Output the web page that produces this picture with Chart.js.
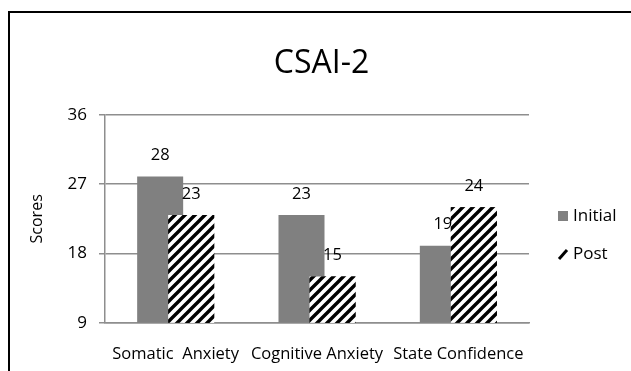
<!DOCTYPE html>
<html>
<head>
<meta charset="utf-8">
<script src="https://cdn.jsdelivr.net/npm/chart.js@4/dist/chart.umd.min.js"></script>
<style>
  html, body { margin: 0; padding: 0; background: #fff; }
  #wrap { position: relative; width: 631px; height: 371px; overflow: hidden; }
  #frame { position: absolute; left: 8px; top: 11px; width: 700px; height: 400px;
           border-left: 2px solid #000; border-top: 2px solid #000; pointer-events: none; }
  canvas { position: absolute; left: 0; top: 0; }
</style>
</head>
<body>
<div id="wrap">
  <canvas id="c" width="631" height="371"></canvas>
  <div id="frame"></div>
</div>
<script>
const chartTitle = "CSAI-2";
const categories = ["Somatic  Anxiety", "Cognitive Anxiety", "State Confidence"];
const seriesNames = ["Initial", "Post"];
const initialValues = [28, 23, 19];
const postValues = [23, 15, 24];
const yTicks = [9, 18, 27, 36];
const yAxisTitle = "Scores";

const FONT = "'Open Sans', 'Noto Sans', sans-serif";
const GRAY = "#808080";
const GRID = "#8e8e8e";

function makeHatch() {
  const s = 10;
  const p = document.createElement("canvas");
  p.width = s; p.height = s;
  const c = p.getContext("2d");
  c.fillStyle = "#fff";
  c.fillRect(0, 0, s, s);
  c.strokeStyle = "#000";
  c.lineWidth = 3.4;
  c.lineCap = "square";
  c.beginPath();
  c.moveTo(-2, s + 2); c.lineTo(s + 2, -2);
  c.moveTo(-2, 2); c.lineTo(2, -2);
  c.moveTo(s - 2, s + 2); c.lineTo(s + 2, s - 2);
  c.stroke();
  return document.getElementById("c").getContext("2d").createPattern(p, "repeat");
}
const hatch = makeHatch();

const valueLabels = {
  id: "valueLabels",
  afterDatasetsDraw(chart) {
    // draw Post bars on top of Initial bars (overlapping like the original)
    const ctx = chart.ctx;
    const area = chart.chartArea;
    ctx.save();
    ctx.beginPath();
    ctx.rect(area.left, area.top, area.right - area.left, area.bottom - area.top);
    ctx.clip();
    chart.getDatasetMeta(1).controller.draw();
    ctx.restore();

    ctx.save();
    ctx.font = "16.5px " + FONT;
    ctx.fillStyle = "#000";
    ctx.textAlign = "center";
    ctx.textBaseline = "middle";
    chart.data.datasets.forEach((ds, di) => {
      const meta = chart.getDatasetMeta(di);
      meta.data.forEach((bar, i) => {
        ctx.fillText(String(ds.data[i]), bar.x, bar.y - 21);
      });
    });
    ctx.restore();
  }
};

const customLegend = {
  id: "customLegend",
  afterDraw(chart) {
    const ctx = chart.ctx;
    const x0 = chart.chartArea.right + 29;
    const ys = [chart.chartArea.top + 101, chart.chartArea.top + 139];
    ctx.save();
    // Initial
    ctx.fillStyle = GRAY;
    ctx.fillRect(x0, ys[0] - 5, 10, 10);
    // Post
    ctx.strokeStyle = "#000";
    ctx.lineWidth = 3;
    ctx.beginPath();
    ctx.moveTo(x0 + 1, ys[1] + 5);
    ctx.lineTo(x0 + 9, ys[1] - 4);
    ctx.stroke();
    ctx.font = "17px " + FONT;
    ctx.fillStyle = "#000";
    ctx.textAlign = "left";
    ctx.textBaseline = "middle";
    ctx.fillText(seriesNames[0], x0 + 15, ys[0]);
    ctx.fillText(seriesNames[1], x0 + 15, ys[1]);
    ctx.restore();
  }
};

new Chart(document.getElementById("c"), {
  type: "bar",
  data: {
    labels: categories,
    datasets: [
      { label: seriesNames[0], data: initialValues, backgroundColor: GRAY, borderWidth: 0 },
      { label: seriesNames[1], data: postValues, backgroundColor: hatch, borderWidth: 0 }
    ]
  },
  options: {
    responsive: false,
    animation: false,
    devicePixelRatio: 1,
    categoryPercentage: 0.4388,
    barPercentage: 1.484,
    layout: { padding: { left: 12, right: 0, top: 0, bottom: 0 } },
    plugins: {
      legend: { display: false },
      tooltip: { enabled: false },
      title: {
        display: true,
        text: chartTitle,
        color: "#000",
        font: { family: FONT, size: 32, weight: "normal", lineHeight: 1.2 },
        padding: { top: 45, bottom: 31.6 }
      }
    },
    scales: {
      x: {
        grid: { display: false, drawTicks: false },
        border: { display: true, color: GRID, width: 1.5 },
        ticks: { color: "#000", font: { family: FONT, size: 16.5 }, padding: 22, maxRotation: 0, autoSkip: false },
        afterFit: s => { s.height = 48.3; }
      },
      y: {
        min: 9,
        max: 36,
        afterBuildTicks: s => { s.ticks = yTicks.map(v => ({ value: v })); },
        grid: { color: GRID, lineWidth: 1.5, drawTicks: true, tickLength: 6 },
        border: { display: true, color: GRID, width: 1.5 },
        ticks: { color: "#000", font: { family: FONT, size: 17 }, padding: 12 },
        title: { display: true, text: yAxisTitle, color: "#000", font: { family: FONT, size: 16 }, padding: { top: 16, bottom: 0 } },
        afterFit: s => { s.width = 93; }
      },
      yR: {
        position: "right",
        display: true,
        grid: { display: false, drawOnChartArea: false, drawTicks: false },
        border: { display: false },
        ticks: { display: false },
        afterFit: s => { s.width = 102; }
      }
    }
  },
  plugins: [valueLabels, customLegend]
});
</script>
</body>
</html>
